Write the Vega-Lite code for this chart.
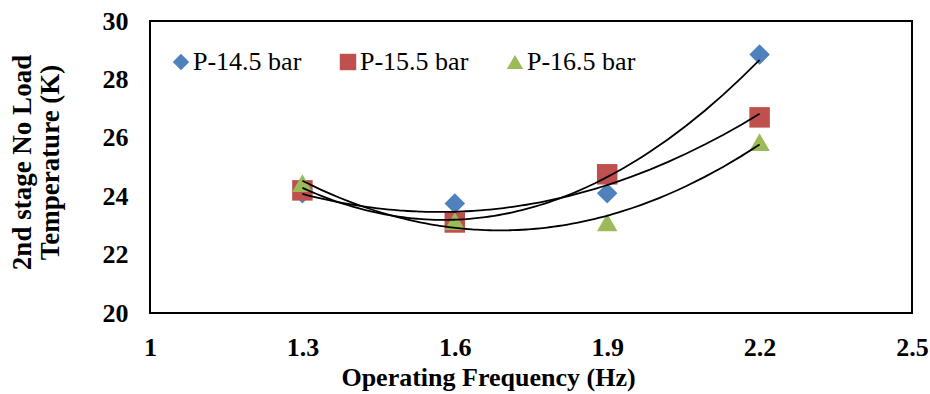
{
  "$schema": "https://vega.github.io/schema/vega-lite/v6.json",
  "width": 762,
  "height": 292,
  "autosize": {"type": "none"},
  "padding": {"left": 150, "top": 21, "right": 18, "bottom": 81},
  "background": "white",
  "config": {
    "view": {"stroke": "black", "strokeWidth": 2},
    "font": "Times New Roman, Liberation Serif, serif"
  },
  "data": {
    "values": [
      {"series": "P-14.5 bar", "freq": 1.3, "temp": 24.1},
      {"series": "P-14.5 bar", "freq": 1.6, "temp": 23.75},
      {"series": "P-14.5 bar", "freq": 1.9, "temp": 24.1},
      {"series": "P-14.5 bar", "freq": 2.2, "temp": 28.85},
      {"series": "P-15.5 bar", "freq": 1.3, "temp": 24.2},
      {"series": "P-15.5 bar", "freq": 1.6, "temp": 23.1},
      {"series": "P-15.5 bar", "freq": 1.9, "temp": 24.75},
      {"series": "P-15.5 bar", "freq": 2.2, "temp": 26.7},
      {"series": "P-16.5 bar", "freq": 1.3, "temp": 24.45},
      {"series": "P-16.5 bar", "freq": 1.6, "temp": 23.15},
      {"series": "P-16.5 bar", "freq": 1.9, "temp": 23.1},
      {"series": "P-16.5 bar", "freq": 2.2, "temp": 25.85}
    ]
  },
  "layer": [
    {
      "mark": {"type": "point", "filled": true, "opacity": 1, "size": 420, "strokeWidth": 0},
      "encoding": {
        "x": {
          "field": "freq", "type": "quantitative",
          "scale": {"domain": [1, 2.5], "nice": false, "zero": false},
          "axis": {
            "values": [1, 1.3, 1.6, 1.9, 2.2, 2.5],
            "format": "~g",
            "domain": false, "ticks": false, "grid": false,
            "labelFont": "Times New Roman, Liberation Serif, serif", "labelFontSize": 26, "labelFontWeight": "bold",
            "labelColor": "black", "labelPadding": 42, "labelBaseline": "alphabetic", "labelFlush": false,
            "title": "Operating Frequency (Hz)",
            "titleFont": "Times New Roman, Liberation Serif, serif", "titleFontSize": 26, "titleFontWeight": "bold",
            "titleColor": "black", "titleX": 338, "titleY": 72, "titleBaseline": "alphabetic"
          }
        },
        "y": {
          "field": "temp", "type": "quantitative",
          "scale": {"domain": [20, 30], "nice": false, "zero": false},
          "axis": {
            "values": [20, 22, 24, 26, 28, 30],
            "domain": false, "ticks": false, "grid": false,
            "labelFont": "Times New Roman, Liberation Serif, serif", "labelFontSize": 26, "labelFontWeight": "bold",
            "labelColor": "black", "labelPadding": 22, "labelFlush": false,
            "title": ["2nd stage No Load", "Temperature (K)"],
            "titleFont": "Times New Roman, Liberation Serif, serif", "titleFontSize": 27, "titleFontWeight": "bold",
            "titleColor": "black", "titleLineHeight": 28, "titleX": -120, "titleY": 141,
            "titleBaseline": "alphabetic", "titleAlign": "center", "titleAngle": -90
          }
        },
        "color": {
          "field": "series", "type": "nominal",
          "scale": {"domain": ["P-14.5 bar", "P-15.5 bar", "P-16.5 bar"], "range": ["#4F81BD", "#C0504D", "#9BBB59"]},
          "legend": {
            "orient": "none", "legendX": 18, "legendY": 28, "direction": "horizontal", "columns": 3,
            "title": null, "padding": 0, "columnPadding": 33,
            "labelFont": "Times New Roman, Liberation Serif, serif", "labelFontSize": 26, "labelColor": "black", "labelOffset": -1,
            "symbolSize": 270, "symbolStrokeWidth": 0
          }
        },
        "shape": {
          "field": "series", "type": "nominal",
          "scale": {"domain": ["P-14.5 bar", "P-15.5 bar", "P-16.5 bar"], "range": ["diamond", "square", "triangle-up"]}
        }
      }
    },
    {
      "transform": [
        {"regression": "temp", "on": "freq", "groupby": ["series"], "method": "poly", "order": 2, "extent": [1.3, 2.2]}
      ],
      "mark": {"type": "line", "color": "black", "strokeWidth": 1.8},
      "encoding": {
        "x": {"field": "freq", "type": "quantitative"},
        "y": {"field": "temp", "type": "quantitative"},
        "detail": {"field": "series", "type": "nominal"}
      }
    }
  ]
}
